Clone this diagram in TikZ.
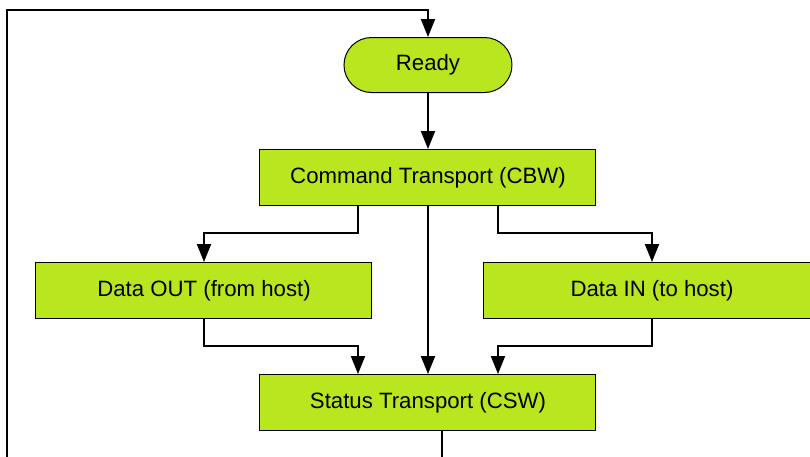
\documentclass[tikz,border=0pt]{standalone}
\usepackage{fontspec}
\setmainfont{Liberation Sans}
\usetikzlibrary{arrows.meta,positioning,calc}
\definecolor{boxgreen}{RGB}{185,230,30}

\begin{document}
\begin{tikzpicture}[
        node distance=28pt and 28pt,
        box/.style={rectangle, draw=black, line width=0.5pt, fill=boxgreen, align=center, minimum width=168pt, minimum height=28pt, font=\fontsize{11.1}{13}\selectfont},
        pill/.style={box, rounded corners=13.75pt, minimum width=84pt, minimum height=27.5pt},
        arrow/.style={-{Triangle[width=7pt,length=9pt]}, line width=1pt}
    ]
        \useasboundingbox (-214pt,-195.5pt) rectangle (191pt,32.5pt);
        \clip (-214pt,-195.5pt) rectangle (191pt,32.5pt);

        \node[pill] (ready) at (0,0) {Ready};
        \node[box, below=of ready] (cmd) {Command Transport (CBW)};
        \node[box, below=of cmd, xshift=-112pt] (dout) {Data OUT (from host)};
        \node[box, below=of cmd, xshift=112pt] (din) {Data IN (to host)};
        \node[box, below=27.5pt of dout, xshift=112pt] (csw) {Status Transport (CSW)};

        \coordinate (loopbl) at ($(csw.south -| dout.west)+(-14pt,-30pt)$);
        \coordinate (looptop) at ($(ready.north)+(0,13.5pt)$);

        \draw[arrow] (ready) -- (cmd);
        \draw[arrow] ([xshift=-35pt]cmd.south) -- ++(0,-13.5pt) -| (dout.north);
        \draw[arrow] ([xshift=35pt]cmd.south) -- ++(0,-13.5pt) -| (din.north);
        \draw[arrow] (cmd) -- (csw);
        \draw[arrow] (dout.south) -- ++(0,-13.5pt) -| ([xshift=-35pt]csw.north);
        \draw[arrow] (din.south) -- ++(0,-13.5pt) -| ([xshift=35pt]csw.north);

        % back to ready
        \draw[arrow] ([xshift=7pt]csw.south) |- (loopbl) |- (looptop) -- (ready);
    \end{tikzpicture}
\end{document}
